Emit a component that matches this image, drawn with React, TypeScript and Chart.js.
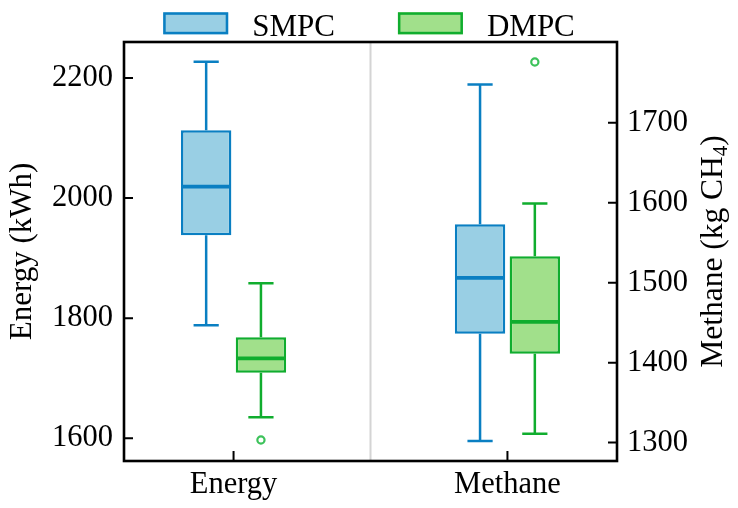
import React, { useEffect, useRef } from 'react';
import { Chart, registerables } from 'chart.js';

Chart.register(...registerables);

// categories on the x axis; Energy is read on the left axis, Methane on the right one
const categories = ['Energy', 'Methane'];
const energyTicks = [1600, 1800, 2000, 2200];
const methaneTicks = [1300, 1400, 1500, 1600, 1700];

// SMPC box statistics, one value per category
const smpcMin = [1788, 1302];
const smpcQ1 = [1938, 1436];
const smpcMedian = [2019, 1506];
const smpcQ3 = [2113, 1573];
const smpcMax = [2227, 1748];
const smpcOutliers = [[], []];

// DMPC box statistics
const dmpcMin = [1635, 1311];
const dmpcQ1 = [1709, 1411];
const dmpcMedian = [1733, 1451];
const dmpcQ3 = [1768, 1533];
const dmpcMax = [1858, 1599];
const dmpcOutliers = [[1597], [1776]];

const FONT = "'Liberation Serif', 'Times New Roman', serif";
const axisIds = ['y', 'y2'];

interface Series {
  name: string;
  min: number[];
  q1: number[];
  median: number[];
  q3: number[];
  max: number[];
  outliers: number[][];
  border: string;
  fill: string;
  flier: string;
  offset: number;
}

const series: Series[] = [
  {
    name: 'SMPC',
    min: smpcMin,
    q1: smpcQ1,
    median: smpcMedian,
    q3: smpcQ3,
    max: smpcMax,
    outliers: smpcOutliers,
    border: '#0a7fc2',
    fill: '#99cfe4',
    flier: '#3a9fd6',
    offset: -0.1,
  },
  {
    name: 'DMPC',
    min: dmpcMin,
    q1: dmpcQ1,
    median: dmpcMedian,
    q3: dmpcQ3,
    max: dmpcMax,
    outliers: dmpcOutliers,
    border: '#10ad2e',
    fill: '#a1e08b',
    flier: '#3cc25a',
    offset: 0.1,
  },
];

// whiskers, caps and medians on top of the floating bars
const whiskerPlugin = {
  id: 'whiskers',
  afterDatasetsDraw(chart: any) {
    const { ctx } = chart;
    ctx.save();
    chart.data.datasets.forEach((ds: any, di: number) => {
      if (!ds.stats) return;
      const meta = chart.getDatasetMeta(di);
      const el = meta.data[0];
      if (!el) return;
      const { x, width } = el.getProps(['x', 'width'], true);
      const s: Series = series[ds.stats.seriesIndex];
      const c: number = ds.stats.cat;
      const yScale = chart.scales[axisIds[c]];
      const py = (v: number) => yScale.getPixelForValue(v);
      ctx.strokeStyle = s.border;
      ctx.lineWidth = 2.5;
      ctx.lineCap = 'butt';
      ctx.beginPath();
      ctx.moveTo(x, py(s.q3[c]));
      ctx.lineTo(x, py(s.max[c]));
      ctx.moveTo(x, py(s.q1[c]));
      ctx.lineTo(x, py(s.min[c]));
      ctx.moveTo(x - width / 4, py(s.max[c]));
      ctx.lineTo(x + width / 4, py(s.max[c]));
      ctx.moveTo(x - width / 4, py(s.min[c]));
      ctx.lineTo(x + width / 4, py(s.min[c]));
      ctx.stroke();
      ctx.lineWidth = 3.8;
      ctx.beginPath();
      ctx.moveTo(x - width / 2 + 1, py(s.median[c]));
      ctx.lineTo(x + width / 2 - 1, py(s.median[c]));
      ctx.stroke();
    });
    ctx.restore();
  },
};

// frame, separator, inward ticks, right title and legend
const framePlugin = {
  id: 'frame',
  beforeDatasetsDraw(chart: any) {
    const { ctx, chartArea, scales } = chart;
    const sx = scales.x.getPixelForValue(0.5);
    ctx.save();
    ctx.strokeStyle = '#d4d4d4';
    ctx.lineWidth = 2;
    ctx.beginPath();
    ctx.moveTo(sx, chartArea.top);
    ctx.lineTo(sx, chartArea.bottom);
    ctx.stroke();
    ctx.restore();
  },
  afterDraw(chart: any) {
    const { ctx, chartArea, scales } = chart;
    const { left, right, top, bottom } = chartArea;
    ctx.save();
    ctx.strokeStyle = '#000';
    ctx.lineWidth = 2;
    ctx.beginPath();
    const tick = 9;
    scales.y.ticks.forEach((t: any) => {
      const p = scales.y.getPixelForValue(t.value);
      ctx.moveTo(left, p);
      ctx.lineTo(left + tick, p);
    });
    scales.y2.ticks.forEach((t: any) => {
      const p = scales.y2.getPixelForValue(t.value);
      ctx.moveTo(right, p);
      ctx.lineTo(right - tick, p);
    });
    scales.x.ticks.forEach((t: any) => {
      const p = scales.x.getPixelForValue(t.value);
      ctx.moveTo(p, bottom);
      ctx.lineTo(p, bottom - tick - 1);
    });
    ctx.stroke();
    ctx.lineWidth = 2.6;
    ctx.strokeRect(left, top, right - left, bottom - top);

    // right axis title, read bottom to top, with subscript
    ctx.fillStyle = '#000';
    ctx.translate(722, (top + bottom) / 2);
    ctx.rotate(-Math.PI / 2);
    const main = 'Methane (kg CH';
    const sub = '4';
    const end = ')';
    ctx.font = `31.5px ${FONT}`;
    const wMain = ctx.measureText(main).width;
    const wEnd = ctx.measureText(end).width;
    ctx.font = `21px ${FONT}`;
    const wSub = ctx.measureText(sub).width;
    const total = wMain + wSub + wEnd;
    let tx = -total / 2;
    ctx.textBaseline = 'alphabetic';
    ctx.textAlign = 'left';
    ctx.font = `31.5px ${FONT}`;
    ctx.fillText(main, tx, 0);
    tx += wMain;
    ctx.font = `21px ${FONT}`;
    ctx.fillText(sub, tx, 5);
    tx += wSub;
    ctx.font = `31.5px ${FONT}`;
    ctx.fillText(end, tx, 0);
    ctx.restore();

    // legend above the plot
    ctx.save();
    ctx.font = `31px ${FONT}`;
    const boxW = 65;
    const boxH = 22;
    const gap = 24;
    const spacing = 63;
    const widths = series.map((s) => ctx.measureText(s.name).width);
    const full =
      widths.reduce((a, w) => a + boxW + gap + w, 0) + spacing * (series.length - 1);
    let lx = (chart.width - full) / 2;
    const by = 12.3;
    series.forEach((s, i) => {
      ctx.fillStyle = s.fill;
      ctx.fillRect(lx, by, boxW, boxH);
      ctx.strokeStyle = s.border;
      ctx.lineWidth = 2.5;
      ctx.strokeRect(lx + 1.25, by + 1.25, boxW - 2.5, boxH - 2.5);
      ctx.fillStyle = '#000';
      ctx.textBaseline = 'alphabetic';
      ctx.fillText(s.name, lx + boxW + gap, 36);
      lx += boxW + gap + widths[i] + spacing;
    });
    ctx.restore();
  },
};

const App: React.FC = () => {
  const canvasRef = useRef<HTMLCanvasElement>(null);

  useEffect(() => {
    const ctx = canvasRef.current?.getContext('2d');
    if (!ctx) return;

    const boxSets: any[] = [];
    const flierSets: any[] = [];
    series.forEach((s, si) => {
      categories.forEach((_, c) => {
        boxSets.push({
          type: 'bar',
          label: s.name,
          yAxisID: axisIds[c],
          data: [{ x: c + s.offset, y: [s.q1[c], s.q3[c]] }],
          backgroundColor: s.fill,
          borderColor: s.border,
          borderWidth: 2.5,
          borderSkipped: false,
          grouped: false,
          barPercentage: 0.92,
          categoryPercentage: 1,
          stats: { seriesIndex: si, cat: c },
        });
        if (s.outliers[c].length) {
          flierSets.push({
            type: 'scatter',
            label: s.name + ' outliers',
            yAxisID: axisIds[c],
            data: s.outliers[c].map((v) => ({ x: c + s.offset, y: v })),
            pointRadius: 3.6,
            pointBorderWidth: 2.2,
            pointBackgroundColor: '#ffffff',
            pointBorderColor: s.flier,
          });
        }
      });
    });

    const tickFont = { family: FONT, size: 30.5 };
    const plain = (v: any) => String(v);

    const chart = new Chart(ctx, {
      type: 'bar',
      data: { datasets: [...boxSets, ...flierSets] },
      options: {
        animation: false,
        responsive: true,
        maintainAspectRatio: false,
        layout: { padding: { top: 42, left: 0, right: 0, bottom: 0 } },
        plugins: {
          legend: { display: false },
          tooltip: { enabled: false },
        },
        scales: {
          x: {
            type: 'linear',
            min: -0.4,
            max: 1.4,
            offset: false,
            afterBuildTicks: (axis: any) => {
              axis.ticks = categories.map((_, i) => ({ value: i }));
            },
            afterFit: (axis: any) => {
              axis.height = 47;
            },
            grid: { display: false, drawTicks: false, offset: false },
            border: { display: false },
            ticks: {
              callback: (v: any) => categories[v] ?? '',
              font: tickFont,
              color: '#000',
              padding: 6,
              maxRotation: 0,
            },
          },
          y: {
            type: 'linear',
            position: 'left',
            min: 1562,
            max: 2260,
            afterBuildTicks: (axis: any) => {
              axis.ticks = energyTicks.map((v) => ({ value: v }));
            },
            afterFit: (axis: any) => {
              axis.width = 124;
            },
            grid: { display: false, drawTicks: false },
            border: { display: false },
            ticks: { font: tickFont, color: '#000', padding: 11, callback: plain },
            title: {
              display: true,
              text: 'Energy (kWh)',
              color: '#000',
              font: { family: FONT, size: 31 },
              padding: { top: 4, bottom: 0 },
            },
          },
          y2: {
            type: 'linear',
            position: 'right',
            min: 1277,
            max: 1801,
            afterBuildTicks: (axis: any) => {
              axis.ticks = methaneTicks.map((v) => ({ value: v }));
            },
            afterFit: (axis: any) => {
              axis.width = 121;
            },
            grid: { display: false, drawTicks: false },
            border: { display: false },
            ticks: { font: tickFont, color: '#000', padding: 10, callback: plain },
          },
        },
      } as any,
      plugins: [whiskerPlugin, framePlugin],
    });

    return () => {
      chart.destroy();
    };
  }, []);

  return (
    <div
      style={{
        position: 'fixed',
        left: 0,
        top: 0,
        width: 738,
        height: 508,
        background: '#ffffff',
      }}
    >
      <canvas ref={canvasRef} />
    </div>
  );
};

export default App;
